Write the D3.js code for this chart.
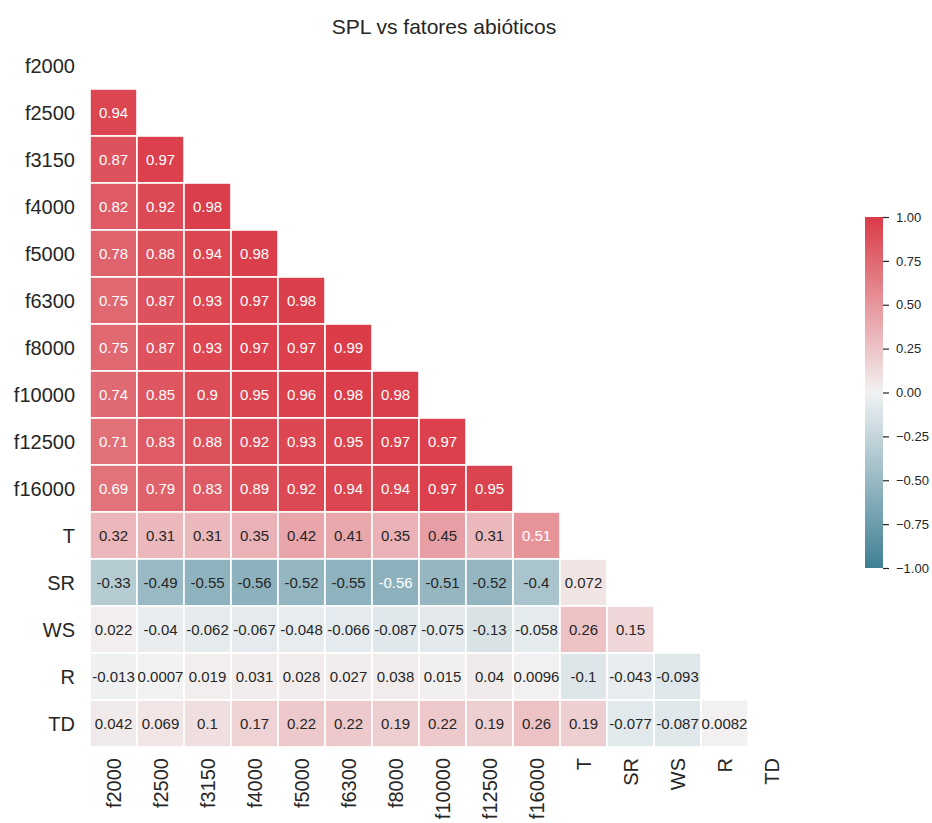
<!DOCTYPE html>
<html>
<head>
<meta charset="utf-8">
<script src="https://cdn.jsdelivr.net/npm/d3@7/dist/d3.min.js"></script>
<style>
  html, body { margin: 0; padding: 0; background: #fff; }
  svg { display: block; font-family: "Liberation Sans", Arial, sans-serif; }
</style>
</head>
<body>
<svg id="chart" width="932" height="823"></svg>
<script>
// Variables, in row/column order
const variables = ["f2000", "f2500", "f3150", "f4000", "f5000", "f6300", "f8000",
  "f10000", "f12500", "f16000", "T", "SR", "WS", "R", "TD"];

// Lower-triangle correlations: each row lists r with the preceding variables
const rF2000 = [];
const rF2500 = [0.94];
const rF3150 = [0.87, 0.97];
const rF4000 = [0.82, 0.92, 0.98];
const rF5000 = [0.78, 0.88, 0.94, 0.98];
const rF6300 = [0.75, 0.87, 0.93, 0.97, 0.98];
const rF8000 = [0.75, 0.87, 0.93, 0.97, 0.97, 0.99];
const rF10000 = [0.74, 0.85, 0.9, 0.95, 0.96, 0.98, 0.98];
const rF12500 = [0.71, 0.83, 0.88, 0.92, 0.93, 0.95, 0.97, 0.97];
const rF16000 = [0.69, 0.79, 0.83, 0.89, 0.92, 0.94, 0.94, 0.97, 0.95];
const rT = [0.32, 0.31, 0.31, 0.35, 0.42, 0.41, 0.35, 0.45, 0.31, 0.51];
const rSR = [-0.33, -0.49, -0.55, -0.558, -0.52, -0.55, -0.563, -0.51, -0.52, -0.4, 0.072];
const rWS = [0.022, -0.04, -0.062, -0.067, -0.048, -0.066, -0.087, -0.075, -0.13, -0.058, 0.26, 0.15];
const rR = [-0.013, 0.0007, 0.019, 0.031, 0.028, 0.027, 0.038, 0.015, 0.04, 0.0096, -0.1, -0.043, -0.093];
const rTD = [0.042, 0.069, 0.1, 0.17, 0.22, 0.22, 0.19, 0.22, 0.19, 0.26, 0.19, -0.077, -0.087, 0.0082];

const rows = [rF2000, rF2500, rF3150, rF4000, rF5000, rF6300, rF8000,
  rF10000, rF12500, rF16000, rT, rSR, rWS, rR, rTD];

const colorbarTicks = [-1, -0.75, -0.5, -0.25, 0, 0.25, 0.5, 0.75, 1];
const title = "SPL vs fatores abióticos";

// ---- HUSL -> sRGB (for the diverging palette end points) ----
const M = [[3.2406, -1.5372, -0.4986], [-0.9689, 1.8758, 0.0415], [0.0557, -0.2040, 1.0570]];
const refU = 0.19784, refV = 0.46834, labE = 0.008856, labK = 903.3;
function maxChroma(L, H) {
  const hr = H * Math.PI / 180, sinH = Math.sin(hr), cosH = Math.cos(hr);
  const sub1 = Math.pow(L + 16, 3) / 1560896;
  const sub2 = sub1 > labE ? sub1 : L / labK;
  let result = Infinity;
  for (const [m1, m2, m3] of M) {
    const top = (0.99915 * m1 + 1.05122 * m2 + 1.14460 * m3) * sub2;
    const rb = 0.86330 * m3 - 0.17266 * m2;
    const lb = 0.12949 * m3 - 0.38848 * m1;
    const bottom = (rb * sinH + lb * cosH) * sub2;
    for (const t of [0, 1]) {
      const C = L * (top - 1.05122 * t) / (bottom + 0.17266 * sinH * t);
      if (C > 0 && C < result) result = C;
    }
  }
  return result;
}
function fromLinear(c) {
  return c <= 0.0031308 ? 12.92 * c : 1.055 * Math.pow(c, 1 / 2.4) - 0.055;
}
function husl(H, S, L) {
  const C = maxChroma(L, H) / 100 * S;
  const hr = H * Math.PI / 180;
  const U = C * Math.cos(hr), V = C * Math.sin(hr);
  const t = (L + 16) / 116;
  const Y = Math.pow(t, 3) > labE ? Math.pow(t, 3) : (116 * t - 16) / labK;
  const vu = U / (13 * L) + refU, vv = V / (13 * L) + refV;
  const X = -(9 * Y * vu) / ((vu - 4) * vv - vu * vv);
  const Z = (9 * Y - 15 * vv * Y - vv * X) / (3 * vv);
  const rgb = M.map(r => Math.max(0, Math.min(1, fromLinear(r[0] * X + r[1] * Y + r[2] * Z))));
  return d3.rgb(rgb[0] * 255, rgb[1] * 255, rgb[2] * 255);
}

// Diverging palette (220 -> light -> 10)
const negEnd = husl(220, 75, 50), negLight = husl(220, 11.25, 95);
const posEnd = husl(10, 75, 50), posLight = husl(10, 11.25, 95);
const mid = d3.rgb(242, 242, 242);
const k = 2 * 127 / 256;
const color = d3.scaleLinear()
  .domain([-1, -1 + k, 0, 1 - k, 1])
  .range([negEnd, negLight, mid, posLight, posEnd])
  .interpolate(d3.interpolateRgb)
  .clamp(true);

// ---- Layout ----
const svg = d3.select("#chart");
const x0 = 90, y0 = 42, size = 705;
const x = d3.scaleBand().domain(variables).range([x0, x0 + size]);
const y = d3.scaleBand().domain(variables).range([y0, y0 + size]);
const ink = "#262626";

svg.append("text")
  .attr("x", 444).attr("y", 34)
  .attr("text-anchor", "middle")
  .attr("font-size", 21).attr("fill", ink)
  .text(title);

const cells = [];
rows.forEach((vals, i) => vals.forEach((v, j) => cells.push({ row: variables[i], col: variables[j], v })));

const fmt = d3.format(".2~g");
const label = v => fmt(v).replace("\u2212", "-");

const g = svg.append("g");
g.selectAll("rect").data(cells).join("rect")
  .attr("x", d => x(d.col)).attr("y", d => y(d.row))
  .attr("width", x.bandwidth()).attr("height", y.bandwidth())
  .attr("fill", d => color(d.v))
  .attr("stroke", "#fff").attr("stroke-width", 1.6);

g.selectAll("text").data(cells).join("text")
  .attr("x", d => x(d.col) + x.bandwidth() / 2)
  .attr("y", d => y(d.row) + y.bandwidth() / 2)
  .attr("text-anchor", "middle").attr("dominant-baseline", "central")
  .attr("font-size", 15)
  .attr("fill", d => (d.v >= 0.5 || d.v <= -0.56) ? "#fff" : ink)
  .text(d => label(d.v));

// Row labels
svg.append("g").selectAll("text").data(variables).join("text")
  .attr("x", 75).attr("y", d => y(d) + y.bandwidth() / 2)
  .attr("text-anchor", "end").attr("dominant-baseline", "central")
  .attr("font-size", 20).attr("fill", ink)
  .text(d => d);

// Column labels (rotated)
svg.append("g").selectAll("text").data(variables).join("text")
  .attr("transform", d => `translate(${x(d) + x.bandwidth() / 2},758) rotate(-90)`)
  .attr("text-anchor", "end").attr("dominant-baseline", "central")
  .attr("font-size", 20).attr("fill", ink)
  .text(d => d);

// ---- Colorbar ----
const cbX = 865, cbW = 18, cbTop = 217, cbBot = 568;
const defs = svg.append("defs");
const grad = defs.append("linearGradient").attr("id", "cbgrad")
  .attr("x1", 0).attr("y1", 1).attr("x2", 0).attr("y2", 0);
d3.range(0, 1.0001, 1 / 64).forEach(t => {
  grad.append("stop").attr("offset", t).attr("stop-color", color(-1 + 2 * t));
});
svg.append("rect").attr("x", cbX).attr("y", cbTop)
  .attr("width", cbW).attr("height", cbBot - cbTop)
  .attr("fill", "url(#cbgrad)");

const cbScale = d3.scaleLinear().domain([-1, 1]).range([cbBot, cbTop]);
const cbAxis = d3.axisRight(cbScale).tickValues(colorbarTicks)
  .tickSize(6).tickPadding(7).tickFormat(d3.format(".2f"));
const ax = svg.append("g").attr("transform", `translate(${cbX + cbW},0)`).call(cbAxis);
ax.select(".domain").remove();
ax.selectAll("line").attr("stroke", ink).attr("stroke-width", 1.2);
ax.selectAll("text").attr("fill", ink).attr("font-size", 13)
  .attr("font-family", "'Liberation Sans', Arial, sans-serif");
</script>
</body>
</html>
